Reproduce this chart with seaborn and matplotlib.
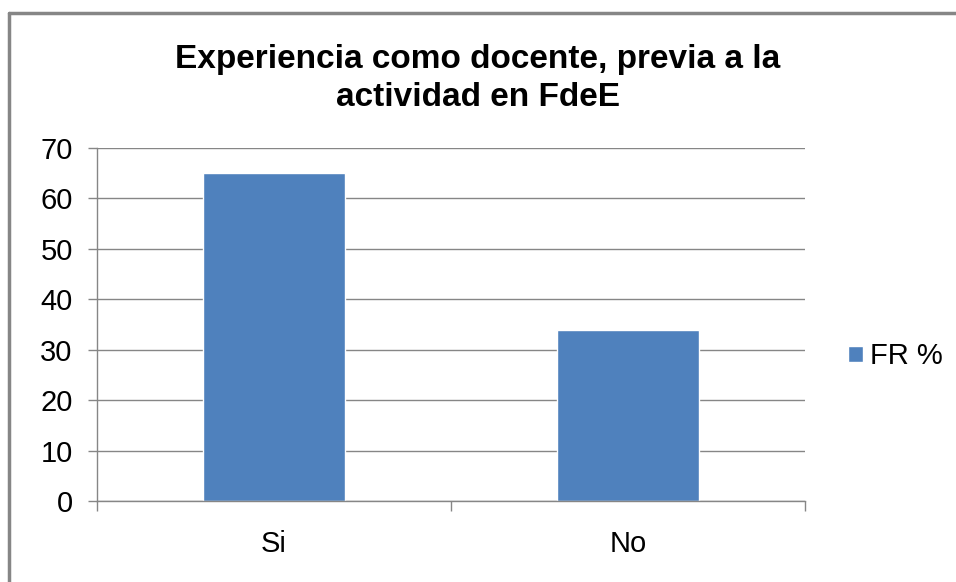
import matplotlib
matplotlib.use("Agg")
import matplotlib.pyplot as plt
import seaborn as sns
import pandas as pd

# data
categorias = ["Si", "No"]
fr_pct = [65, 34]
serie = "FR %"
titulo = "Experiencia como docente, previa a la\nactividad en FdeE"

df = pd.DataFrame({"cat": categorias, "val": fr_pct})

sns.set_style("white")
plt.rcParams["font.family"] = ["Liberation Sans", "DejaVu Sans"]
plt.rcParams["text.color"] = "black"
plt.rcParams["xtick.color"] = "black"
plt.rcParams["ytick.color"] = "black"

fig = plt.figure(figsize=(9.56, 5.82), dpi=100)
ax = fig.add_axes([0.1015, 0.1392, 0.7405, 0.6065])

sns.barplot(data=df, x="cat", y="val", color="#4F81BD", width=0.4,
            saturation=1, ax=ax, label=serie)

gris = "#868686"
ax.set_ylim(0, 70)
ax.set_xlim(-0.5, 1.5)
ax.set_yticks(range(0, 71, 10))
ax.yaxis.grid(True, color=gris, linewidth=1)
ax.set_axisbelow(True)
for s in ["top", "right"]:
    ax.spines[s].set_visible(False)
for s in ["left", "bottom"]:
    ax.spines[s].set_color(gris)
    ax.spines[s].set_linewidth(1)
ax.tick_params(axis="y", length=6.5, color=gris, width=1, labelsize=21, pad=11,
               left=True, labelcolor="black")
ax.tick_params(axis="x", length=0, labelsize=21, pad=21, labelcolor="black")
ax.set_xticks([-0.5, 0.5, 1.5], minor=True)
ax.tick_params(axis="x", which="minor", length=7, color=gris, width=1, bottom=True)
ax.set_xlabel("")
ax.set_ylabel("")

fig.text(0.5, 0.924, titulo, fontsize=24, fontweight="bold", ha="center",
         va="top", linespacing=1.3, color="black")

ax.legend(loc="center left", bbox_to_anchor=(1.0607, 0.41), frameon=False,
          fontsize=21, handlelength=0.5, handleheight=0.5, handletextpad=0.25,
          borderaxespad=0, borderpad=0)

# outer frame (only left and top visible in the crop)
fig.add_artist(plt.Line2D([0.0094, 0.0094], [0, 0.978], color=gris, lw=2.5,
                          transform=fig.transFigure))
fig.add_artist(plt.Line2D([0.0094, 1], [0.978, 0.978], color=gris, lw=2.5,
                          transform=fig.transFigure))

fig.savefig("out.png", dpi=100)
